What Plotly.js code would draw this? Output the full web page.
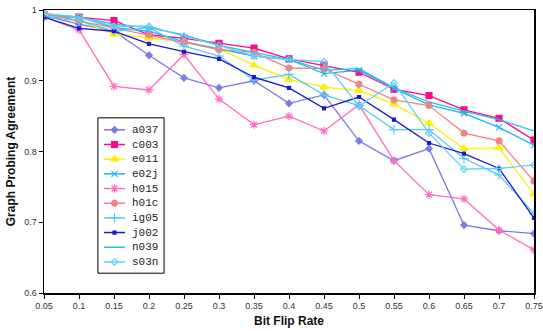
<!DOCTYPE html>
<html>
<head>
<meta charset="utf-8">
<script src="https://cdn.plot.ly/plotly-3.0.1.min.js"></script>
<style>html,body{margin:0;padding:0;background:#fff;}#chart{width:543px;height:331px;}</style>
</head>
<body>
<div id="chart"></div>
<script>
const flipRates = [0.05,0.1,0.15,0.2,0.25,0.3,0.35,0.4,0.45,0.5,0.55,0.6,0.65,0.7,0.75];
const seriesNames = ["a037","c003","e011","e02j","h015","h01c","ig05","j002","n039","s03n"];
const a037 = [0.992,0.980,0.970,0.936,0.904,0.890,0.900,0.868,0.880,0.815,0.787,0.804,0.696,0.688,0.684];
const c003 = [0.993,0.990,0.985,0.965,0.960,0.953,0.946,0.931,0.922,0.912,0.888,0.879,0.859,0.847,0.816];
const e011 = [0.995,0.985,0.966,0.960,0.955,0.945,0.922,0.902,0.891,0.886,0.867,0.840,0.804,0.805,0.740];
const e02j = [0.990,0.990,0.975,0.970,0.955,0.945,0.935,0.930,0.910,0.915,0.889,0.866,0.854,0.834,0.809];
const h015 = [0.990,0.972,0.892,0.887,0.937,0.874,0.838,0.850,0.829,0.866,0.787,0.739,0.733,0.689,0.661];
const h01c = [0.995,0.985,0.975,0.965,0.955,0.944,0.940,0.918,0.917,0.895,0.873,0.865,0.826,0.815,0.758];
const ig05 = [0.990,0.985,0.970,0.975,0.949,0.935,0.901,0.909,0.880,0.865,0.831,0.831,0.790,0.767,0.712];
const j002 = [0.990,0.974,0.970,0.952,0.941,0.931,0.905,0.890,0.861,0.877,0.845,0.812,0.797,0.776,0.706];
const n039 = [0.995,0.990,0.980,0.975,0.965,0.950,0.940,0.930,0.915,0.917,0.890,0.870,0.857,0.845,0.829];
const s03n = [0.995,0.990,0.977,0.977,0.963,0.950,0.935,0.930,0.927,0.864,0.897,0.826,0.775,0.776,0.781];
const seriesValues = [a037,c003,e011,e02j,h015,h01c,ig05,j002,n039,s03n];

const styles = [
  {color:"#7b7be8", symbol:"diamond", size:5},
  {color:"#ff0a8c", symbol:"square", size:6},
  {color:"#ffee00", symbol:"triangle-up", size:7},
  {color:"#1fb4ee", symbol:"x-thin-open", size:6},
  {color:"#ff6cc0", symbol:"asterisk-open", size:7},
  {color:"#f08484", symbol:"circle", size:6},
  {color:"#55c8f5", symbol:"cross-thin-open", size:7},
  {color:"#1a1ad0", symbol:"square", size:3},
  {color:"#28bde8", symbol:"line-ew-open", size:1},
  {color:"#5fcff7", symbol:"diamond-open", size:5}
];

const traces = seriesNames.map((name,i)=>({
  type:"scatter", mode: name==="n039" ? "lines" : "lines+markers",
  name:name, x:flipRates, y:seriesValues[i], showlegend:false,
  line:{color:styles[i].color, width:1.3},
  marker:{color:styles[i].color, symbol:styles[i].symbol, size:styles[i].size,
          line:{color:styles[i].color, width:1.2}}
}));

// Custom legend drawn on an overlay axis in plot-area fractions
const lgX0 = 0.110, lgX1 = 0.245, lgTop = 0.619, lgBot = 0.070;
const rowTop = (292.7-130)/282.2, rowStep = 14.63/282.2;
const smpX = [0.1224, 0.1439, 0.1653], txtX = 0.175;
traces.push({type:"scatter", mode:"lines", xaxis:"x2", yaxis:"y2", showlegend:false,
  x:[lgX0,lgX1,lgX1,lgX0,lgX0], y:[lgBot,lgBot,lgTop,lgTop,lgBot],
  fill:"toself", fillcolor:"#fff", line:{color:"#000", width:1}});
const annotations = [];
seriesNames.forEach((name,i)=>{
  const yr = rowTop - i*rowStep;
  const st = styles[i];
  traces.push({type:"scatter", mode: name==="n039" ? "lines" : "lines+markers",
    xaxis:"x2", yaxis:"y2", showlegend:false,
    x:smpX, y:[yr,yr,yr],
    line:{color:st.color, width:1.5},
    marker:{color:st.color, symbol:st.symbol, size:[0,st.size,0], opacity:[0,1,0],
            line:{color:st.color, width:1.2}}});
  annotations.push({xref:"paper", yref:"paper", x:txtX, y:yr, xanchor:"left", yanchor:"middle",
    text:name, showarrow:false,
    font:{family:"Liberation Mono, Courier New, monospace", size:11, color:"#222"}});
});

const layout = {
  width:543, height:331,
  margin:{l:44, r:9, t:10, b:38},
  paper_bgcolor:"#fff", plot_bgcolor:"#fff",
  font:{family:"Arial, Liberation Sans, sans-serif", size:9, color:"#222"},
  showlegend:false,
  annotations:annotations,
  xaxis:{range:[0.05,0.75], tick0:0.05, dtick:0.05, showgrid:false, zeroline:false,
         showline:true, linecolor:"#000", linewidth:1.5, mirror:true,
         ticks:"outside", ticklen:4, tickcolor:"#000",
         tickfont:{size:9, color:"#333"},
         title:{text:"<b>Bit Flip Rate</b>", font:{size:12, color:"#111"}, standoff:6}},
  yaxis:{range:[0.6,1], dtick:0.1, showgrid:false, zeroline:false,
         showline:true, linecolor:"#000", linewidth:1.5, mirror:true,
         ticks:"outside", ticklen:4, tickcolor:"#000",
         tickfont:{size:9, color:"#333"},
         title:{text:"<b>Graph Probing Agreement</b>", font:{size:12, color:"#111"}, standoff:6}},
  xaxis2:{overlaying:"x", range:[0,1], visible:false, fixedrange:true},
  yaxis2:{overlaying:"y", range:[0,1], visible:false, fixedrange:true}
};

Plotly.newPlot("chart", traces, layout, {staticPlot:true, displayModeBar:false});
</script>
</body>
</html>
